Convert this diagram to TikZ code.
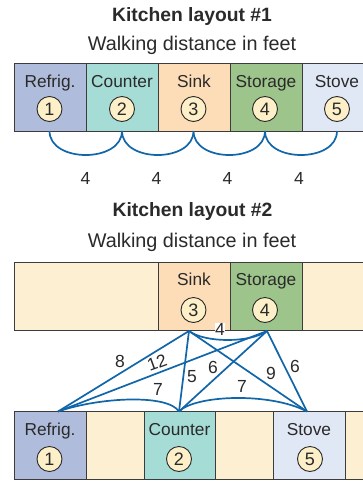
\documentclass[tikz,border=0pt]{standalone}
\usepackage{fontspec}
\setmainfont{Liberation Sans}
\definecolor{txt}{HTML}{2A2A2A}
\definecolor{boxline}{HTML}{3C3C3C}
\definecolor{refrig}{HTML}{B0BCDC}
\definecolor{counter}{HTML}{A6DCD6}
\definecolor{sink}{HTML}{FDDCB8}
\definecolor{storage}{HTML}{9DC48B}
\definecolor{stove}{HTML}{E1E8F5}
\definecolor{filler}{HTML}{FDF0D2}
\definecolor{cream}{HTML}{FDF0C8}
\definecolor{lineblue}{HTML}{1166AA}
\begin{document}
\begin{tikzpicture}[x=1pt,y=-1pt,
  box/.style={draw=boxline, line width=1pt, minimum height=68pt, inner sep=0pt, outer sep=0pt},
  lab/.style={font=\fontsize{17.3}{20}\selectfont, text=txt, anchor=base, inner sep=0pt},
  title/.style={font=\fontsize{19.3}{22}\selectfont\bfseries, text=txt, anchor=base, inner sep=0pt},
  subtitle/.style={font=\fontsize{19.8}{22}\selectfont, text=txt, anchor=base, inner sep=0pt},
  num/.style={circle, draw=txt, line width=0.9pt, fill=cream, minimum size=25pt, inner sep=0pt, font=\fontsize{18}{20}\selectfont, text=txt},
  walk/.style={draw=lineblue, line width=1.7pt},
  dist/.style={font=\fontsize{17.5}{20}\selectfont, text=txt, inner sep=0.5pt}]
\useasboundingbox (0,0) rectangle (363,483);
\clip (0,0) rectangle (363,483);
\fill[white] (0,0) rectangle (363,483);

% ---------- Layout 1 ----------
\node[title] (t1) at (192,21) {Kitchen layout \#1};
\node[subtitle] (s1) at (192,50.5) {Walking distance in feet};

\node[box, minimum width=72pt, fill=refrig]  (k1) at (50,97) {};
\node[box, minimum width=72pt, fill=counter] (k2) at (122,97) {};
\node[box, minimum width=72pt, fill=sink]    (k3) at (194,97) {};
\node[box, minimum width=72pt, fill=storage] (k4) at (266,97) {};
\node[box, minimum width=72pt, fill=stove]   (k5) at (338,97) {};

\node[lab] (l1) at (50,87.3) {Refrig.};
\node[lab] (l2) at (122,87.3) {Counter};
\node[lab] (l3) at (194,87.3) {Sink};
\node[lab] (l4) at (266,87.3) {Storage};
\node[lab] (l5) at (337,87.3) {Stove};

\node[num] (c1) at (49.5,109) {1};
\node[num] (c2) at (122,109) {2};
\node[num] (c3) at (193.5,109) {3};
\node[num] (c4) at (265,109) {4};
\node[num] (c5) at (337,109) {5};

\coordinate (a1) at (49.5,131);
\coordinate (a2) at (122,131);
\coordinate (a3) at (193.5,131);
\coordinate (a4) at (265,131);
\coordinate (a5) at (337,131);
\draw[walk] (a1) .. controls +(0,32) and +(0,32) .. (a2);
\draw[walk] (a2) .. controls +(0,32) and +(0,32) .. (a3);
\draw[walk] (a3) .. controls +(0,32) and +(0,32) .. (a4);
\draw[walk] (a4) .. controls +(0,32) and +(0,32) .. (a5);

\node[dist] (d1) at (85.5,178) {4};
\node[dist] (d2) at (156.5,178) {4};
\node[dist] (d3) at (227.5,178) {4};
\node[dist] (d4) at (299,178) {4};

% ---------- Layout 2 ----------
\node[title] (t2) at (192.5,216.7) {Kitchen layout \#2};
\node[subtitle] (s2) at (192,247.7) {Walking distance in feet};

\node[box, minimum width=144pt, fill=filler]  (u0) at (86,296.7) {};
\node[box, minimum width=72pt, fill=sink]     (u3) at (194,296.7) {};
\node[box, minimum width=72pt, fill=storage]  (u4) at (266,296.7) {};
\node[box, minimum width=72pt, fill=filler]   (u6) at (338,296.7) {};

\node[lab] (m3) at (194,285) {Sink};
\node[lab] (m4) at (266,285) {Storage};
\node[num] (e3) at (193.5,310) {3};
\node[num] (e4) at (265,310) {4};

\node[box, minimum width=72pt, fill=refrig]   (w1) at (50,445.8) {};
\node[box, minimum width=58pt, fill=filler]   (w2) at (115,445.8) {};
\node[box, minimum width=71pt, fill=counter]  (w3) at (179.5,445.8) {};
\node[box, minimum width=58pt, fill=filler]   (w4) at (244,445.8) {};
\node[box, minimum width=72pt, fill=stove]    (w5) at (309,445.8) {};
\node[box, minimum width=58pt, fill=filler]   (w6) at (374,445.8) {};

\node[lab] (n1) at (50,435) {Refrig.};
\node[lab] (n2) at (179.5,435) {Counter};
\node[lab] (n5) at (309,435) {Stove};
\node[num] (f1) at (49.5,459) {1};
\node[num] (f2) at (179,459) {2};
\node[num] (f5) at (310,459) {5};

\coordinate (pS) at (189,331);
\coordinate (pT) at (267,331);
\coordinate (pR) at (58,411.5);
\coordinate (pC) at (179,411.5);
\coordinate (pV) at (307,411.5);

\draw[walk] (pS) -- (pR);
\draw[walk] (pS) -- (pC);
\draw[walk] (pS) -- (pV);
\draw[walk] (pT) -- (pR);
\draw[walk] (pT) -- (pC);
\draw[walk] (pT) -- (pV);
\draw[walk] (pS) .. controls (205,343) and (250,343) .. (pT);
\draw[walk] (pR) .. controls (100,397) and (168,394) .. (pC);
\draw[walk] (pC) .. controls (195,395) and (270,392) .. (pV);

\node[dist] (g8) at (120,361) {8};
\node[dist, rotate=20] (g12) at (157,362.5) {12};
\node[dist] (g7a) at (158,389) {7};
\node[dist] (g5) at (192,377) {5};
\node[dist] (g6a) at (213,367) {6};
\node[dist] (g7b) at (242,386) {7};
\node[dist] (g9) at (271,373) {9};
\node[dist] (g6b) at (295,366) {6};
\node[dist, fill=white, inner sep=0.3pt] (g4) at (220,329.5) {4};
\end{tikzpicture}
\end{document}
